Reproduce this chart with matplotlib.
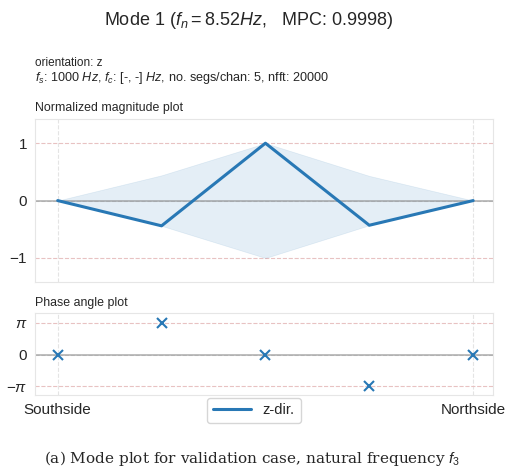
import numpy as np
import matplotlib
matplotlib.use('Agg')
from matplotlib import pyplot as plt
import seaborn as sns

# mode shape data
positions = [0, 1, 2, 3, 4]
magnitude = [0.0, -0.44, 1.0, -0.43, 0.0]
phase = [0.0, np.pi, 0.0, -np.pi, 0.0]
xtick_pos = [0, 4]
xtick_labels = ['Southside', 'Northside']
ytick_phase = [-np.pi, 0, np.pi]
ytick_phase_labels = [r'$-\pi$', '0', r'$\pi$']

sns.set_style('whitegrid', {'grid.linestyle': '--', 'grid.color': '#e4e4e4',
                            'axes.edgecolor': '#e6e6e6'})
plt.rcParams['font.family'] = ['Liberation Sans', 'DejaVu Sans']
plt.rcParams['mathtext.fontset'] = 'custom'
plt.rcParams['mathtext.rm'] = 'Liberation Sans'
plt.rcParams['mathtext.it'] = 'Liberation Sans:italic'

blue = '#2878b5'
fig = plt.figure(figsize=(5.05, 4.67), dpi=100)

# Titles and info text
fig.text(0.493, 0.957, r'Mode 1 ($f_n = 8.52 Hz$,   MPC: 0.9998)', ha='center', va='center', fontsize=13, color='#262626')
fig.text(0.069, 0.865, 'orientation: z', ha='left', va='center', fontsize=8.5, color='#262626')
fig.text(0.069, 0.833, r'$f_s$: 1000 $Hz$, $f_c$: [-, -] $Hz$, no. segs/chan: 5, nfft: 20000',
         ha='left', va='center', fontsize=9.1, color='#262626')

# Magnitude plot
ax1 = fig.add_axes([0.069, 0.396, 0.907, 0.349])
ax1.plot(positions, magnitude, color=blue, lw=2.2, label='z-dir.', zorder=5)
env = np.abs(np.array(magnitude))
ax1.fill_between(positions, -env, env, color=blue, alpha=0.12, lw=0.5)
ax1.axhline(0, color='gray', alpha=0.6, lw=1.2, zorder=1)
ax1.axhline(1, color='r', alpha=0.15, lw=0.8, ls='--')
ax1.axhline(-1, color='r', alpha=0.15, lw=0.8, ls='--')
ax1.set_xlim(-0.22, 4.19)
ax1.set_ylim(-1.42, 1.42)
ax1.set_yticks([-1, 0, 1])
ax1.set_yticklabels([r'$-1$', '0', '1'])
ax1.set_xticks(xtick_pos)
ax1.set_xticklabels([])
ax1.tick_params(labelsize=11, pad=2)
ax1.set_title('Normalized magnitude plot', loc='left', fontsize=8.9, color='#262626', pad=6)

# Phase plot
ax2 = fig.add_axes([0.069, 0.154, 0.907, 0.176])
ax2.plot(positions, phase, 'x', color=blue, ms=7, mew=1.5, zorder=5)
ax2.axhline(0, color='gray', alpha=0.6, lw=1.2, zorder=1)
ax2.axhline(np.pi, color='r', alpha=0.15, lw=0.8, ls='--')
ax2.axhline(-np.pi, color='r', alpha=0.15, lw=0.8, ls='--')
ax2.set_xlim(-0.22, 4.19)
ax2.set_ylim(-1.27 * np.pi, 1.31 * np.pi)
ax2.set_yticks(ytick_phase)
ax2.set_yticklabels(ytick_phase_labels)
ax2.set_xticks(xtick_pos)
ax2.set_xticklabels(xtick_labels)
ax2.tick_params(labelsize=11, pad=2)
ax2.set_title('Phase angle plot', loc='left', fontsize=8.9, color='#262626', pad=5)

handles, labels = ax1.get_legend_handles_labels()
fig.legend(handles, labels, loc='center', bbox_to_anchor=(0.503, 0.121), fontsize=10.5,
           frameon=True, handlelength=2.6)

fig.text(0.5, 0.019, r'(a) Mode plot for validation case, natural frequency $f_3$',
         ha='center', va='center', fontsize=11, family='DejaVu Serif')

fig.savefig('out.png', dpi=100)
